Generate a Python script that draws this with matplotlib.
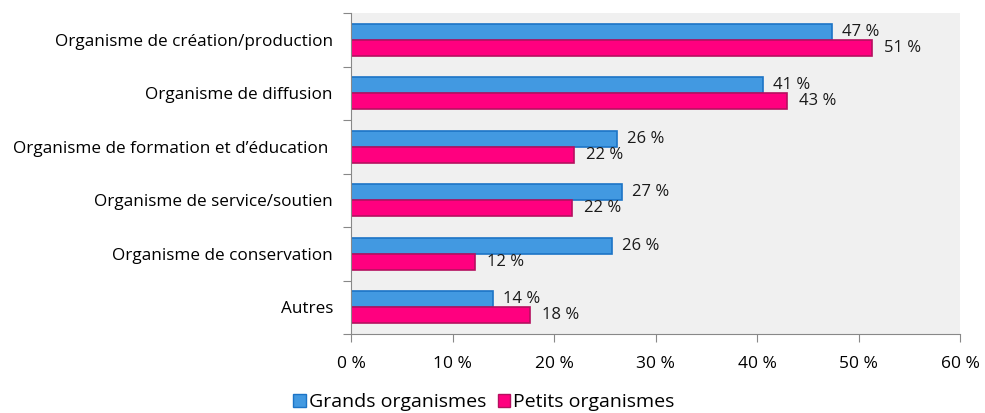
import matplotlib
matplotlib.use("Agg")
import matplotlib.pyplot as plt
import numpy as np
from matplotlib.patches import Patch

categories = [
    "Organisme de création/production",
    "Organisme de diffusion",
    "Organisme de formation et d’éducation ",
    "Organisme de service/soutien",
    "Organisme de conservation",
    "Autres",
]
grands = [47.4, 40.6, 26.2, 26.7, 25.7, 14.0]
petits = [51.3, 43.0, 22.0, 21.8, 12.2, 17.6]
series_names = ["Grands organismes", "Petits organismes"]
xticks = [0, 10, 20, 30, 40, 50, 60]

plt.rcParams['font.family'] = ['Open Sans', 'DejaVu Sans']

blue_fill, blue_edge = "#4299E1", "#1C74C6"
pink_fill, pink_edge = "#FF007F", "#B5105F"

fig = plt.figure(figsize=(9.85, 4.13), dpi=100)
ax = fig.add_axes([351/985, 1-334/413, (960-351)/985, (334-13)/413])
ax.set_facecolor("#F0F0F0")

n = len(categories)
y = np.arange(n)
h = 0.3
ax.barh(y - h/2, grands, height=h, color=blue_fill, edgecolor=blue_edge, linewidth=1.2)
ax.barh(y + h/2, petits, height=h, color=pink_fill, edgecolor=pink_edge, linewidth=1.2)

for yi, g, p in zip(y, grands, petits):
    ax.annotate(f"{g:.0f} %", (g, yi - h/2), xytext=(10, 0), textcoords="offset pixels",
                va="center", ha="left", fontsize=12, color="#1a1a1a")
    ax.annotate(f"{p:.0f} %", (p, yi + h/2), xytext=(12, 0), textcoords="offset pixels",
                va="center", ha="left", fontsize=12, color="#1a1a1a")

ax.set_ylim(n - 0.5, -0.5)
ax.set_xlim(0, 60)
ax.set_xticks(xticks)
ax.set_xticklabels([f"{t} %" for t in xticks], fontsize=12.5)

ax.set_yticks(np.arange(n + 1) - 0.5)
ax.set_yticklabels([])
ax.set_yticks(y, minor=True)
ax.set_yticklabels(categories, minor=True, fontsize=12.3)
ax.tick_params(axis="y", which="minor", length=0, pad=13)
ax.tick_params(axis="y", which="major", length=6, color="#888888")
ax.tick_params(axis="x", length=6, color="#888888", pad=10)

for s in ["top", "right"]:
    ax.spines[s].set_visible(False)
for s in ["left", "bottom"]:
    ax.spines[s].set_color("#888888")

handles = [Patch(facecolor=blue_fill, edgecolor=blue_edge), Patch(facecolor=pink_fill, edgecolor=pink_edge)]
fig.legend(handles, series_names, loc="center", bbox_to_anchor=(484/985, 1-402/413), ncol=2,
           frameon=False, fontsize=14, handlelength=0.65, handleheight=0.65, handletextpad=0.15,
           columnspacing=0.6, borderpad=0)

fig.savefig("out.png", dpi=100)
